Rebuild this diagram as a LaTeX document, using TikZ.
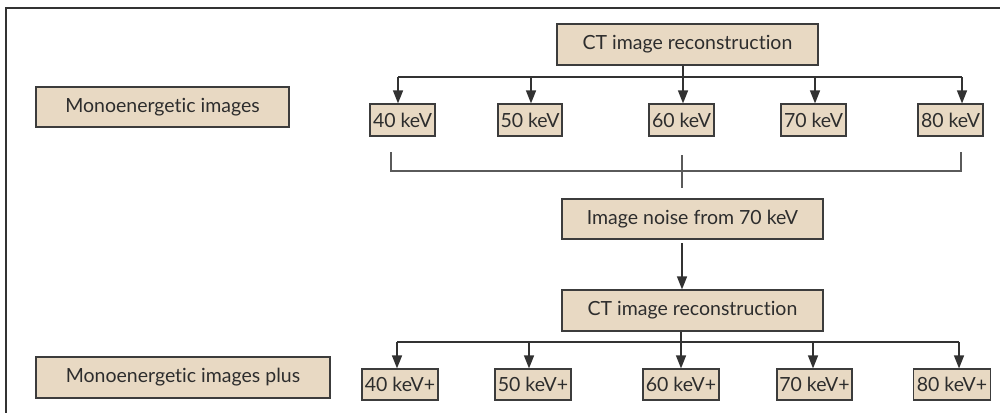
\documentclass[tikz,border=0pt]{standalone}
\usepackage{fontspec}
\setmainfont{Lato}[Ligatures=NoCommon]
\usetikzlibrary{arrows.meta}
\definecolor{boxfill}{RGB}{232,217,195}
\definecolor{boxline}{RGB}{60,60,60}
\definecolor{ink}{RGB}{45,45,45}
\definecolor{wire}{RGB}{50,50,50}
\definecolor{bracketgray}{RGB}{90,90,90}
\tikzset{
  box/.style={draw=boxline, fill=boxfill, line width=1.2pt, text=ink,
    inner sep=0pt, font=\fontsize{19.5}{22}\selectfont},
  wirebus/.style={draw=wire, line width=1.4pt},
  arrowdown/.style={draw=wire, line width=1.4pt, -{Triangle[length=13pt,width=10pt]}},
  bracketline/.style={draw=bracketgray, line width=1.3pt},
  frameline/.style={draw=wire, line width=1.4pt}
}
\begin{document}
\begin{tikzpicture}[x=1pt,y=-1pt]
\useasboundingbox (0,0) rectangle (1000,413);

% frame
\coordinate (fTL) at (6,8);
\coordinate (fTR) at (1000,8);
\coordinate (fBL) at (6,413);
\draw[frameline] (fTR) -- (fTL) -- (fBL);

% row labels
\node[box, minimum width=253pt, minimum height=40pt] (mono) at (162.5,107) {Monoenergetic images};
\node[box, minimum width=294pt, minimum height=41pt] (plus) at (183,377.5) {Monoenergetic images plus};

% first reconstruction
\node[box, minimum width=261pt, minimum height=41pt] (ct1) at (687.5,44.5) {CT image reconstruction};
\node[box, minimum width=65pt, minimum height=32pt] (k40) at (402.5,120) {40 keV};
\node[box, minimum width=64pt, minimum height=32pt] (k50) at (530,120) {50 keV};
\node[box, minimum width=65pt, minimum height=32pt] (k60) at (681.5,120) {60 keV};
\node[box, minimum width=65pt, minimum height=32pt] (k70) at (813.5,120) {70 keV};
\node[box, minimum width=65pt, minimum height=32pt] (k80) at (950.5,120) {80 keV};

\coordinate (a40) at (398,77);
\coordinate (a50) at (531,77);
\coordinate (a60) at (683,77);
\coordinate (a70) at (815,77);
\coordinate (a80) at (962,77);
\draw[wirebus] (a40) -- (a80);
\draw[wirebus] (ct1.south -| a60) -- (a60);
\foreach \k in {40,50,60,70,80}
  \draw[arrowdown] (a\k) -- (a\k |- k\k.north);

% bracket gathering the five energies
\coordinate (bL) at (391,152);
\coordinate (bR) at (961,152);
\coordinate (bLb) at (391,171);
\coordinate (bRb) at (961,171);
\coordinate (sTop) at (682,155);
\coordinate (sBot) at (682,188);
\draw[bracketline] (bL) -- (bLb) -- (bRb) -- (bR);
\draw[bracketline] (sTop) -- (sBot);

% noise step
\node[box, minimum width=261pt, minimum height=40pt] (noise) at (692.5,219) {Image noise from 70 keV};
\node[box, minimum width=261pt, minimum height=41pt] (ct2) at (692.5,310.5) {CT image reconstruction};
\coordinate (nOut) at (682,243);
\draw[arrowdown] (nOut) -- (nOut |- ct2.north);

% second reconstruction
\node[box, minimum width=76pt, minimum height=31pt] (p40) at (400,384.5) {40 keV+};
\node[box, minimum width=76pt, minimum height=31pt] (p50) at (533,384.5) {50 keV+};
\node[box, minimum width=76pt, minimum height=31pt] (p60) at (681,384.5) {60 keV+};
\node[box, minimum width=75pt, minimum height=31pt] (p70) at (814.5,384.5) {70 keV+};
\node[box, minimum width=77pt, minimum height=31pt] (p80) at (952,384.5) {80 keV+};

\coordinate (c40) at (397,342);
\coordinate (c50) at (529,342);
\coordinate (c60) at (681,342);
\coordinate (c70) at (813,342);
\coordinate (c80) at (959,342);
\draw[wirebus] (c40) -- (c80);
\draw[wirebus] (ct2.south -| c60) -- (c60);
\foreach \k in {40,50,60,70,80}
  \draw[arrowdown] (c\k) -- (c\k |- p\k.north);
\end{tikzpicture}
\end{document}
